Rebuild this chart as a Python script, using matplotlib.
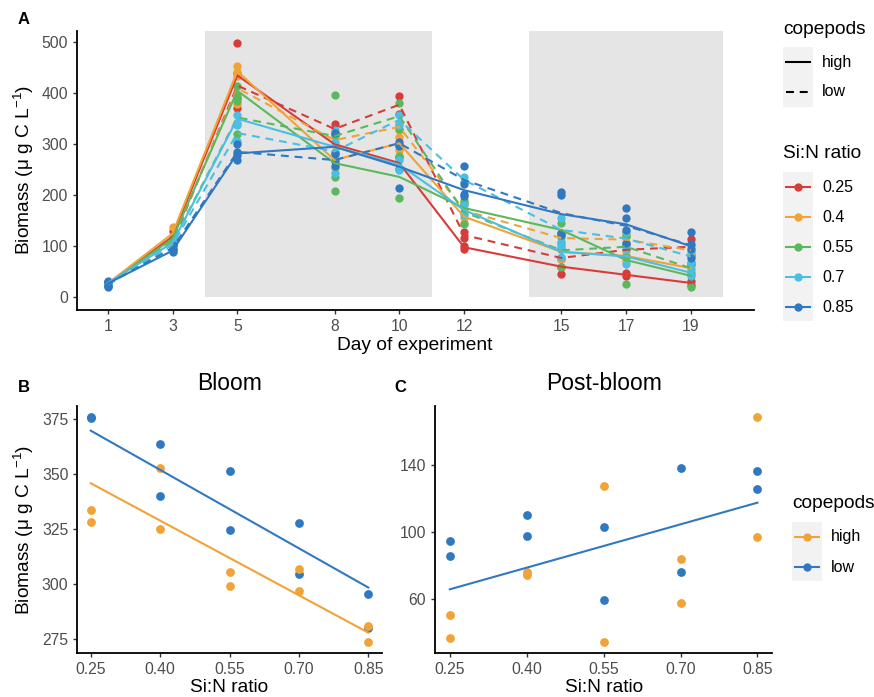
import numpy as np
import matplotlib
matplotlib.use("Agg")
import matplotlib.pyplot as plt
from matplotlib.patches import Rectangle

plt.rcParams["font.family"] = ["Liberation Sans", "DejaVu Sans"]
plt.rcParams["mathtext.fontset"] = "custom"
plt.rcParams["mathtext.rm"] = "Liberation Sans"
plt.rcParams["mathtext.it"] = "Liberation Sans:italic"

# ---- panel A: biomass over time (2 replicates per treatment and day)
days = [1, 3, 5, 8, 10, 12, 15, 17, 19]
ratios = ["0.25", "0.4", "0.55", "0.7", "0.85"]
colors = ["#d73c3a", "#f0a336", "#5cb85c", "#4bbfe3", "#3079c0"]
phases = [(4, 11), (14, 20)]

r025_high = [(28, 24), (130, 108), (498, 372), (318, 282), (275, 251), (101, 95), (75, 45), (47, 41), (32, 24)]
r025_low = [(30, 26), (112, 104), (440, 390), (340, 320), (395, 360), (128, 116), (95, 59), (105, 81), (115, 83)]
r040_high = [(29, 25), (138, 112), (453, 433), (285, 253), (315, 289), (170, 146), (103, 75), (90, 72), (65, 49)]
r040_low = [(27, 24), (118, 108), (442, 378), (318, 298), (340, 328), (185, 155), (125, 107), (125, 101), (100, 84)]
r055_high = [(27, 25), (120, 110), (415, 395), (318, 208), (277, 195), (185, 165), (145, 119), (121, 25), (63, 21)]
r055_low = [(28, 23), (114, 104), (385, 320), (397, 235), (380, 330), (190, 144), (125, 59), (120, 78), (68, 46)]
r070_high = [(30, 26), (110, 104), (358, 342), (305, 285), (270, 250), (180, 162), (100, 78), (95, 65), (55, 41)]
r070_low = [(26, 24), (108, 98), (338, 306), (328, 244), (358, 338), (235, 225), (155, 109), (128, 102), (90, 70)]
r085_high = [(32, 22), (95, 88), (285, 279), (322, 268), (297, 215), (222, 198), (200, 126), (155, 131), (105, 95)]
r085_low = [(30, 21), (102, 92), (300, 270), (280, 258), (305, 299), (258, 202), (207, 123), (174, 106), (127, 77)]

high_series = [r025_high, r040_high, r055_high, r070_high, r085_high]
low_series = [r025_low, r040_low, r055_low, r070_low, r085_low]

# ---- panels B and C: mean biomass vs Si:N ratio
sin_x = [0.25, 0.25, 0.40, 0.40, 0.55, 0.55, 0.70, 0.70, 0.85, 0.85]
sin_ticks = [0.25, 0.40, 0.55, 0.70, 0.85]
fit_x = [0.25, 0.85]

bloom_high = [333.8, 328.5, 352.6, 325.3, 305.6, 299.2, 306.8, 296.7, 280.8, 273.6]
bloom_low = [376.2, 375.5, 363.8, 340.3, 351.5, 324.8, 327.7, 304.8, 295.6, 280.0]
bloom_fit_high = [345.9, 278.0]
bloom_fit_low = [369.8, 298.5]

post_high = [50.6, 37.1, 76.1, 74.5, 127.7, 34.3, 84.1, 57.6, 169.1, 97.0]
post_low = [94.6, 85.7, 110.1, 98.0, 103.4, 59.4, 138.2, 76.3, 136.6, 126.1]
post_fit_low = [66.0, 117.7]

cop_colors = {"high": "#f0a336", "low": "#3079c0"}

W, H = 874, 697
fig = plt.figure(figsize=(W / 100, H / 100), dpi=100)


def px_axes(left, top, right, bottom):
    return fig.add_axes([left / W, 1 - bottom / H, (right - left) / W, (bottom - top) / H])


def style(ax):
    for s in ["top", "right"]:
        ax.spines[s].set_visible(False)
    for s in ["left", "bottom"]:
        ax.spines[s].set_linewidth(1.3)
        ax.spines[s].set_color("black")
    ax.tick_params(length=3.2, width=1, color="#333333", labelcolor="#4d4d4d",
                   labelsize=11.3, pad=3.2)


ylab = "Biomass (μ g C L$^{-1}$)"

# panel A
axA = px_axes(77, 31, 754, 310)
for x0, x1 in phases:
    axA.add_patch(Rectangle((x0, 0), x1 - x0, 1000, color="#e5e5e5", lw=0, zorder=0))
for col, hi, lo in zip(colors, high_series, low_series):
    for ser in (hi, lo):
        arr = np.array(ser)
        axA.scatter(np.repeat(days, 2), arr.ravel(), s=36, color=col, lw=0, zorder=2)
for col, hi, lo in zip(colors, high_series, low_series):
    axA.plot(days, np.array(hi).mean(axis=1), color=col, lw=1.5, zorder=3)
    axA.plot(days, np.array(lo).mean(axis=1), color=col, lw=1.5, ls=(0, (3.8, 2.8)), zorder=3)
axA.set_xlim(0.05, 20.95)
axA.set_ylim(-25, 522)
axA.set_xticks(days)
axA.set_yticks(range(0, 501, 100))
style(axA)

# panel B
axB = px_axes(77.3, 406, 381.7, 653.3)
axB.scatter(sin_x, bloom_low, s=40, color=cop_colors["low"], lw=0, zorder=2)
axB.scatter(sin_x, bloom_high, s=40, color=cop_colors["high"], lw=0, zorder=2)
axB.plot(fit_x, bloom_fit_low, color=cop_colors["low"], lw=1.5, zorder=3)
axB.plot(fit_x, bloom_fit_high, color=cop_colors["high"], lw=1.5, zorder=3)
axB.set_xlim(0.221, 0.879)
axB.set_ylim(268.6, 381.0)
axB.set_xticks(sin_ticks)
axB.set_xticklabels([f"{v:.2f}" for v in sin_ticks])
axB.set_yticks([275, 300, 325, 350, 375])
style(axB)

# panel C
axC = px_axes(435, 406, 772.3, 653.3)
axC.scatter(sin_x, post_low, s=40, color=cop_colors["low"], lw=0, zorder=2)
axC.scatter(sin_x, post_high, s=40, color=cop_colors["high"], lw=0, zorder=2)
axC.plot(fit_x, post_fit_low, color=cop_colors["low"], lw=1.5, zorder=3)
axC.set_xlim(0.221, 0.879)
axC.set_ylim(27.8, 175.4)
axC.set_xticks(sin_ticks)
axC.set_xticklabels([f"{v:.2f}" for v in sin_ticks])
axC.set_yticks([60, 100, 140])
style(axC)

# overlay for labels and legends (pixel coordinates)
ov = fig.add_axes([0, 0, 1, 1], zorder=10)
ov.set_xlim(0, W)
ov.set_ylim(H, 0)
ov.axis("off")
ov.patch.set_alpha(0)

ov.text(24, 20, "A", fontsize=12, fontweight="bold", ha="center", va="center")
ov.text(24, 388, "B", fontsize=12, fontweight="bold", ha="center", va="center")
ov.text(400, 388, "C", fontsize=12, fontweight="bold", ha="center", va="center")

ov.text(24, 170, ylab, fontsize=13.8, rotation=90, ha="center", va="center")
ov.text(24, 530, ylab, fontsize=13.8, rotation=90, ha="center", va="center")
ov.text(415, 345, "Day of experiment", fontsize=13.8, ha="center", va="center")
ov.text(229, 688, "Si:N ratio", fontsize=13.8, ha="center", va="center")
ov.text(604, 688, "Si:N ratio", fontsize=13.8, ha="center", va="center")
ov.text(230, 384, "Bloom", fontsize=16.5, ha="center", va="center")
ov.text(604, 384, "Post-bloom", fontsize=16.5, ha="center", va="center")

# legend A: copepods
ov.text(783, 30, "copepods", fontsize=13.8, ha="left", va="center")
ov.add_patch(Rectangle((783, 47), 30, 60, color="#f2f2f2", lw=0))
ov.plot([786, 810], [62, 62], color="black", lw=1.5)
ov.plot([786, 810], [92, 92], color="black", lw=1.5, ls=(0, (3.8, 2.8)))
ov.text(822, 62, "high", fontsize=11.5, ha="left", va="center")
ov.text(822, 92, "low", fontsize=11.5, ha="left", va="center")

# legend A: Si:N ratio
ov.text(783, 154, "Si:N ratio", fontsize=13.8, ha="left", va="center")
ov.add_patch(Rectangle((783, 172), 30, 149, color="#f2f2f2", lw=0))
for i, (lab, col) in enumerate(zip(ratios, colors)):
    yy = 187 + 30 * i
    ov.plot([786, 810], [yy, yy], color=col, lw=1.5)
    ov.plot([798], [yy], "o", ms=6, color=col, mew=0)
    ov.text(822, yy, lab, fontsize=11.5, ha="left", va="center")

# legend C: copepods
ov.text(792, 503, "copepods", fontsize=13.8, ha="left", va="center")
ov.add_patch(Rectangle((792, 522), 30, 59, color="#f2f2f2", lw=0))
for i, lab in enumerate(["high", "low"]):
    yy = 537 + 30 * i
    ov.plot([795, 819], [yy, yy], color=cop_colors[lab], lw=1.5)
    ov.plot([807], [yy], "o", ms=6, color=cop_colors[lab], mew=0)
    ov.text(831, yy, lab, fontsize=11.5, ha="left", va="center")

fig.savefig("out.png", dpi=100)
